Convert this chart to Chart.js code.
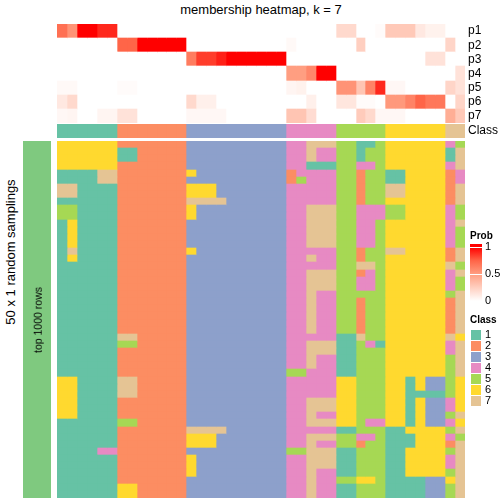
<!DOCTYPE html>
<html>
<head>
    <title>membership heatmap, k = 7</title>
    <script src="https://cdn.jsdelivr.net/npm/chart.js"></script>
    <style>
        html, body { margin: 0; padding: 0; background: white; overflow: hidden; }
        body { width: 504px; height: 504px; position: relative; font-family: "Liberation Sans", Arial, sans-serif; color: black; }
        canvas { position: absolute; display: block; }
        .label { position: absolute; white-space: nowrap; line-height: 1; z-index: 2; }
        .rot { transform: translate(-50%, -50%) rotate(-90deg); }
    </style>
</head>
<body>
    <div class="label" style="left:261px; top:9px; font-size:13px; transform:translate(-50%,-50%)">membership heatmap, k = 7</div>
    <div class="label rot" style="left:10px; top:252px; font-size:13px">50 x 1 random samplings</div>
    <div class="label rot" style="left:38px; top:320px; font-size:10.5px">top 1000 rows</div>
    <div class="label" style="left:470px; top:231px; font-size:10px; font-weight:bold">Prob</div>
    <div class="label" style="left:470px; top:315px; font-size:10px; font-weight:bold">Class</div>

    <canvas id="probChart" width="447" height="99" style="left:57px; top:24px"></canvas>
    <canvas id="stripChart" width="447" height="14" style="left:57px; top:124px"></canvas>
    <canvas id="sideChart" width="28" height="357" style="left:23px; top:141px"></canvas>
    <canvas id="mainChart" width="408" height="357" style="left:57px; top:141px"></canvas>
    <canvas id="probLegend" width="34" height="72" style="left:470px; top:238px"></canvas>
    <canvas id="classLegend" width="33" height="84" style="left:471px; top:326px"></canvas>

    <script>
        // Top panel: membership probability per column
        const p1 = [.7,.55,1,1,.9,.9, 0,0,0,0,0,0,0, 0,0,0,0,0,0,0,0,0,0, 0,0,0,0,0, .2,.2,0,0,.02, .28,.28,.28,.12,.07,.07, 0,0];
        const p2 = [0,0,0,0,0,0, .75,.75,1,1,1,1,1, 0,0,0,0,0,0,0,0,0,0, .03,0,0,0,0, 0,0,.25,0,0, 0,0,0,0,0,0, .22,0];
        const p3 = [0,0,0,0,0,0, 0,0,0,0,0,0,0, .65,.85,.85,.92,1,1,1,1,1,1, 0,0,0,0,0, 0,0,0,0,0, 0,0,0,0,.15,.15, 0,0];
        const p4 = [0,0,0,0,0,0, 0,0,0,0,0,0,0, 0,0,0,0,0,0,0,0,0,0, .5,.5,.6,1,1, 0,0,0,0,0, 0,0,0,0,0,0, 0,.15];
        const p5 = [.03,.03,0,0,0,0, .02,.02,0,0,0,0,0, 0,0,0,0,0,0,0,0,0,0, .05,.07,0,0,0, .55,.55,.3,.62,.9, .04,.04,0,0,0,0, .22,.15];
        const p6 = [.12,.2,0,0,0,0, 0,0,0,0,0,0,0, .2,.08,.08,0,0,0,0,0,0,0, 0,0,.08,0,0, .13,.13,.02,.02,0, .52,.52,.62,.75,.67,.67, 0,.22];
        const p7 = [.04,.05,0,0,.05,.05, .15,.15,0,0,0,0,0, .04,.04,.04,.04,0,0,0,0,0,0, .3,.3,.18,0,0, 0,0,.27,.2,.04, .04,.04,0,0,0,0, .42,.28];
        const probRows = [p1, p2, p3, p4, p5, p6, p7];
        const probLabels = ['p1', 'p2', 'p3', 'p4', 'p5', 'p6', 'p7'];

        // Class of each column, then class of each column per sampling (one string per row)
        const columnClass = '11111122222223333333333444445555566666677'.split('').map(Number);
        const sampleRows = [
            '666666 2222222 3333333333 44777 55115 666666 45',
            '666666 1122222 3333333333 44744 55155 666666 17',
            '666666 1122222 3333333333 44744 55155 666666 17',
            '666666 2222222 3333333333 44111 55445 666666 47',
            '111177 2222222 6333333333 24444 55255 116666 24',
            '111177 2222222 3333333333 25444 55255 116666 24',
            '771111 2222222 6663333333 44444 55255 776666 27',
            '771111 2222222 6663333333 44444 55255 776666 27',
            '111111 2222222 7777333333 44444 55255 666666 27',
            '551111 2222222 6333333333 44777 55444 556666 45',
            '551111 2222222 6333333333 44777 55444 556666 45',
            '161111 2222222 3333333333 44777 55445 666666 47',
            '161111 2222222 3333333333 44777 55445 666666 45',
            '161111 2222222 3333333333 44777 55445 666666 45',
            '161111 2222222 3333333333 44777 55445 666666 45',
            '171111 2222222 6333333333 44444 55255 776666 27',
            '161111 2222222 3333333333 44744 55255 666666 27',
            '111111 2222222 3333333333 44444 55775 666666 75',
            '111111 2222222 3333333333 44777 55245 666666 47',
            '111111 2222222 3333333333 44777 55445 666666 45',
            '111111 2222222 3333333333 44777 55445 666666 45',
            '111111 2222222 3333333333 44744 55555 666666 57',
            '111111 2222222 3333333333 44744 55255 666666 27',
            '111111 2222222 3333333333 44744 55255 666666 27',
            '111111 2222222 3333333333 44744 55255 666666 27',
            '111111 2222222 3333333333 44744 55255 666666 27',
            '111111 2222222 3333333333 44744 55255 666666 27',
            '111111 7722222 3333333333 44444 11755 666666 76',
            '111111 5522222 3333333333 44777 11541 666666 47',
            '111111 2222222 3333333333 44777 11555 666666 47',
            '111111 2222222 3333333333 44744 11555 666666 57',
            '111111 2222222 3333333333 44744 11555 666666 57',
            '111111 2222222 3333333333 55444 11555 666666 57',
            '661111 7722222 3333333333 44444 66555 661633 56',
            '661111 7722222 3333333333 44444 66555 661633 56',
            '661111 7722222 3333333333 44444 66555 661111 56',
            '661111 2222222 3333333333 44777 66555 661633 46',
            '661111 2222222 3333333333 44777 66555 661633 46',
            '661111 2222222 3333333333 44744 66555 661633 57',
            '111111 5522222 3333333333 44777 66544 661633 46',
            '111111 2222222 7777333333 44444 11555 116666 57',
            '111111 2222222 6663333333 44777 55445 111666 45',
            '111111 2222222 6663333333 44744 55255 111666 27',
            '111144 2222222 3333333333 55777 11555 116666 57',
            '111111 2222222 6333333333 44777 11555 116666 47',
            '111111 2222222 6333333333 44777 11555 116666 47',
            '111111 2222222 6333333333 44744 11555 116666 57',
            '111111 2222222 3333333333 44744 55665 111133 67',
            '111111 6622222 3333333333 44744 11555 111133 57',
            '111111 6622222 3333333333 44744 11555 111133 57'
        ];

        const classLabels = ['1', '2', '3', '4', '5', '6', '7'];
        const classColors = ['#66C2A5', '#FC8D62', '#8DA0CB', '#E78AC3', '#A6D854', '#FFD92F', '#E5C494'];
        const probTicks = [0, 0.5, 1];
        const ramp = [[0, 255, 255, 255], [0.25, 255, 207, 192], [0.5, 255, 158, 129], [0.75, 255, 101, 72], [1, 255, 0, 0]];

        // white to red, same stops the colour key uses
        function probColor(p) {
            let i = 0;
            while (i < ramp.length - 2 && p > ramp[i + 1][0]) i++;
            const a = ramp[i], b = ramp[i + 1];
            const t = (p - a[0]) / (b[0] - a[0]);
            const mix = (k) => Math.round(a[k] + (b[k] - a[k]) * t);
            return `rgb(${mix(1)}, ${mix(2)}, ${mix(3)})`;
        }

        // Round the bars to whole pixels, otherwise thin seams show between cells
        const snapCells = {
            id: 'snapCells',
            afterDatasetsUpdate(chart) {
                chart.getSortedVisibleDatasetMetas().forEach((meta) => {
                    meta.data.forEach((el) => {
                        const top = Math.round(el.y - el.height / 2);
                        const bottom = Math.round(el.y + el.height / 2);
                        el.y = (top + bottom) / 2;
                        el.height = bottom - top;
                        el.base = Math.round(el.base);
                        el.x = Math.round(el.x);
                    });
                });
            }
        };

        const tickFont = { family: '"Liberation Sans", Arial, sans-serif', size: 12 };

        // Stacked horizontal bars, one dataset per column, one bar per row
        function heatChart(id, rowLabels, nColumns, cellColor, yOptions) {
            const datasets = [];
            for (let c = 0; c < nColumns; c++) {
                datasets.push({
                    data: rowLabels.map(() => 1),
                    backgroundColor: rowLabels.map((_, r) => cellColor(r, c)),
                    barPercentage: 1,
                    categoryPercentage: 1,
                    borderWidth: 0
                });
            }
            return new Chart(document.getElementById(id), {
                type: 'bar',
                data: { labels: rowLabels, datasets: datasets },
                plugins: [snapCells],
                options: {
                    indexAxis: 'y',
                    responsive: false,
                    animation: false,
                    devicePixelRatio: 1,
                    layout: { padding: 0 },
                    plugins: { legend: { display: false }, tooltip: { enabled: false } },
                    scales: {
                        x: { display: false, stacked: true, min: 0, max: nColumns },
                        y: Object.assign({ display: false, stacked: true }, yOptions)
                    }
                }
            });
        }

        function rightLabels(width, size, padding) {
            return {
                display: true,
                position: 'right',
                grid: { display: false, drawTicks: false },
                border: { display: false },
                ticks: {
                    color: 'black',
                    padding: padding,
                    autoSkip: false,
                    maxRotation: 0,
                    font: Object.assign({}, tickFont, { size: size })
                },
                // keep the plot area at full height, labels may overhang
                afterFit(scale) {
                    scale.width = width;
                    scale.paddingTop = 0;
                    scale.paddingBottom = 0;
                }
            };
        }

        heatChart('probChart', probLabels, columnClass.length,
            (r, c) => probColor(probRows[r][c]), rightLabels(39, 12, 3));

        heatChart('stripChart', ['Class'], columnClass.length,
            (r, c) => classColors[columnClass[c] - 1], rightLabels(39, 12, 3));

        heatChart('sideChart', [''], 1, () => '#7FC97F');

        const cells = sampleRows.map((s) => s.replace(/ /g, ''));
        heatChart('mainChart', cells.map((_, i) => String(i + 1)), columnClass.length,
            (r, c) => classColors[Number(cells[r][c]) - 1]);

        // Colour key for the probabilities
        new Chart(document.getElementById('probLegend'), {
            type: 'bar',
            data: {
                labels: [''],
                datasets: [{
                    data: [1.06],
                    barPercentage: 1,
                    categoryPercentage: 1,
                    backgroundColor(ctx) {
                        const area = ctx.chart.chartArea;
                        if (!area) return '#ffffff';
                        const y0 = ctx.chart.scales.y.getPixelForValue(0);
                        const y1 = ctx.chart.scales.y.getPixelForValue(1);
                        const g = ctx.chart.ctx.createLinearGradient(0, y0, 0, y1);
                        ramp.forEach((s) => g.addColorStop(s[0], `rgb(${s[1]}, ${s[2]}, ${s[3]})`));
                        return g;
                    }
                }]
            },
            options: {
                responsive: false,
                animation: false,
                devicePixelRatio: 1,
                layout: { padding: { top: 6, bottom: 9 } },
                plugins: { legend: { display: false }, tooltip: { enabled: false } },
                scales: {
                    x: { display: false },
                    y: {
                        position: 'right',
                        min: 0,
                        max: 1.06,
                        border: { display: false },
                        grid: { color: 'white', z: 1, drawTicks: false, borderDash: [3, 6], lineWidth: 1 },
                        afterBuildTicks(scale) { scale.ticks = probTicks.map((v) => ({ value: v })); },
                        afterFit(scale) {
                            scale.width = 22;
                            scale.paddingTop = 0;
                            scale.paddingBottom = 0;
                        },
                        ticks: {
                            color: 'black',
                            padding: 3,
                            font: Object.assign({}, tickFont, { size: 11 }),
                            callback: (v) => String(v)
                        }
                    }
                }
            }
        });

        // Colour key for the classes
        new Chart(document.getElementById('classLegend'), {
            type: 'bar',
            data: {
                labels: classLabels,
                datasets: [{
                    data: classLabels.map(() => 1),
                    backgroundColor: classColors,
                    barPercentage: 0.9,
                    categoryPercentage: 1
                }]
            },
            plugins: [snapCells],
            options: {
                indexAxis: 'y',
                responsive: false,
                animation: false,
                devicePixelRatio: 1,
                plugins: { legend: { display: false }, tooltip: { enabled: false } },
                layout: { padding: { top: 3, bottom: 3 } },
                scales: {
                    x: { display: false, min: 0, max: 1 },
                    y: rightLabels(23, 11, 4)
                }
            }
        });
    </script>
</body>
</html>
